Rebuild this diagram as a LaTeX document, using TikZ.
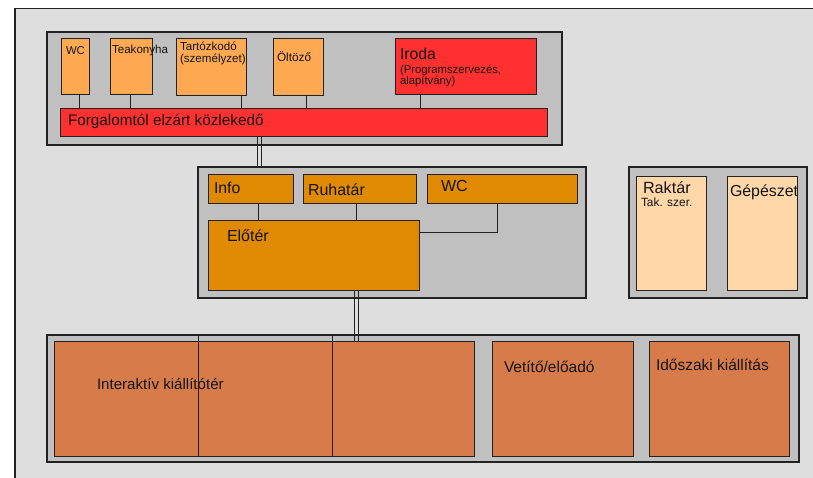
\documentclass[tikz,border=0pt]{standalone}
\usepackage{fontspec}
\setmainfont{Liberation Sans}
\definecolor{bgc}{HTML}{DEDEDE}
\definecolor{grpc}{HTML}{C0C0C0}
\definecolor{lor}{HTML}{FFA953}
\definecolor{redc}{HTML}{FF3030}
\definecolor{dor}{HTML}{DF8A00}
\definecolor{peach}{HTML}{FFD7A8}
\definecolor{terra}{HTML}{D87B4A}
\definecolor{linec}{HTML}{222222}
\newcommand\fsz[1]{\fontsize{#1}{#1}\selectfont}
\begin{document}
\begin{tikzpicture}[x=1pt,y=-1pt,
  box/.style={draw=linec, line width=0.9pt, anchor=north west, inner sep=0pt, outer sep=0pt},
  grp/.style={box, fill=grpc, line width=1.1pt},
  lbl/.style={anchor=base west, inner sep=0pt, outer sep=0pt, text=black!92},
  conn/.style={draw=linec, line width=0.9pt}]
\useasboundingbox (0,0) rectangle (813,478);
% outer background
\node[box, fill=bgc, line width=1.3pt, minimum width=830pt, minimum height=500pt] (outer) at (15,8.5) {};
% top group
\node[grp, minimum width=515pt, minimum height=113pt] (topgrp) at (47,32) {};
\node[box, fill=lor, minimum width=28pt, minimum height=56pt] (wc1) at (61,38) {};
\node[box, fill=lor, minimum width=42pt, minimum height=56pt] (tea) at (110,38) {};
\node[box, fill=lor, minimum width=70pt, minimum height=57pt] (tart) at (176,38) {};
\node[box, fill=lor, minimum width=50pt, minimum height=57pt] (olt) at (273,38) {};
\node[box, fill=redc, minimum width=141pt, minimum height=56pt] (iroda) at (395,38) {};
\node[box, fill=redc, minimum width=487pt, minimum height=28pt] (corr) at (60,108) {};
% middle group
\node[grp, minimum width=388pt, minimum height=131pt] (midgrp) at (198,167) {};
\node[box, fill=dor, minimum width=85pt, minimum height=29pt] (info) at (208,174) {};
\node[box, fill=dor, minimum width=113pt, minimum height=29pt] (ruha) at (303,174) {};
\node[box, fill=dor, minimum width=150pt, minimum height=29pt] (wc2) at (427,174) {};
\node[box, fill=dor, minimum width=211pt, minimum height=70pt] (elo) at (208,220) {};
% right group
\node[grp, minimum width=178pt, minimum height=131pt] (rgrp) at (629,167) {};
\node[box, fill=peach, minimum width=70pt, minimum height=114pt] (rak) at (636,176) {};
\node[box, fill=peach, minimum width=70pt, minimum height=114pt] (gep) at (727,176) {};
% bottom group
\node[grp, minimum width=752pt, minimum height=127pt] (botgrp) at (47,335) {};
\node[box, fill=terra, minimum width=420pt, minimum height=115pt] (inter) at (54,341) {};
\node[box, fill=terra, minimum width=141pt, minimum height=115pt] (vet) at (492,341) {};
\node[box, fill=terra, minimum width=140pt, minimum height=115pt] (ido) at (649,341) {};
% connectors
\draw[conn] (79,0 |- wc1.south) -- (79,0 |- corr.north);
\draw[conn] (130,0 |- tea.south) -- (130,0 |- corr.north);
\draw[conn] (241,0 |- tart.south) -- (241,0 |- corr.north);
\draw[conn] (306,0 |- olt.south) -- (306,0 |- corr.north);
\draw[conn] (420,0 |- iroda.south) -- (420,0 |- corr.north);
\draw[conn] (257,0 |- corr.south) -- (257,0 |- midgrp.north);
\draw[conn] (261,0 |- corr.south) -- (261,0 |- midgrp.north);
\draw[conn] (258,0 |- info.south) -- (258,0 |- elo.north);
\draw[conn] (356,0 |- ruha.south) -- (356,0 |- elo.north);
\draw[conn] (497,0 |- wc2.south) |- (elo.east |- 0,232);
\draw[conn] (354,0 |- elo.south) -- (354,0 |- inter.north);
\draw[conn] (358,0 |- elo.south) -- (358,0 |- inter.north);
\draw[conn] (198,0 |- botgrp.north) -- (198,0 |- inter.south);
\draw[conn] (332,0 |- botgrp.north) -- (332,0 |- inter.south);
% labels
\node[lbl, font=\fsz{11.3}] (twc1) at (66,55) {WC};
\node[lbl, font=\fsz{11.6}] (ttea) at (112,54) {Teakonyha};
\node[lbl, font=\fsz{11.6}] (ttart1) at (180,51) {Tartózkodó};
\node[lbl, font=\fsz{11.6}] (ttart2) at (180,63) {(személyzet)};
\node[lbl, font=\fsz{11.8}] (tolt) at (277,62) {Öltöző};
\node[lbl, font=\fsz{15.8}] (tiroda) at (400,60) {Iroda};
\node[lbl, font=\fsz{11.3}] (tiroda2) at (400,74) {(Programszervezés,};
\node[lbl, font=\fsz{11.3}] (tiroda3) at (400,85) {alapítvány)};
\node[lbl, font=\fsz{15.3}] (tcorr) at (68,126) {Forgalomtól elzárt közlekedő};
\node[lbl, font=\fsz{15.8}] (tinfo) at (214,194) {Info};
\node[lbl, font=\fsz{16}] (truha) at (308,196) {Ruhatár};
\node[lbl, font=\fsz{16}] (twc2) at (441,192) {WC};
\node[lbl, font=\fsz{16}] (telo) at (227,241) {Előtér};
\node[lbl, font=\fsz{16.2}] (trak) at (643,194) {Raktár};
\node[lbl, font=\fsz{11.9}] (trak2) at (641,207) {Tak. szer.};
\node[lbl, font=\fsz{15.9}] (tgep) at (730,197) {Gépészet};
\node[lbl, font=\fsz{15.1}] (tinter) at (97,389) {Interaktív kiállítótér};
\node[lbl, font=\fsz{15.5}] (tvet) at (504,372) {Vetítő/előadó};
\node[lbl, font=\fsz{15.5}] (tido) at (656,370) {Időszaki kiállítás};
\end{tikzpicture}
\end{document}
